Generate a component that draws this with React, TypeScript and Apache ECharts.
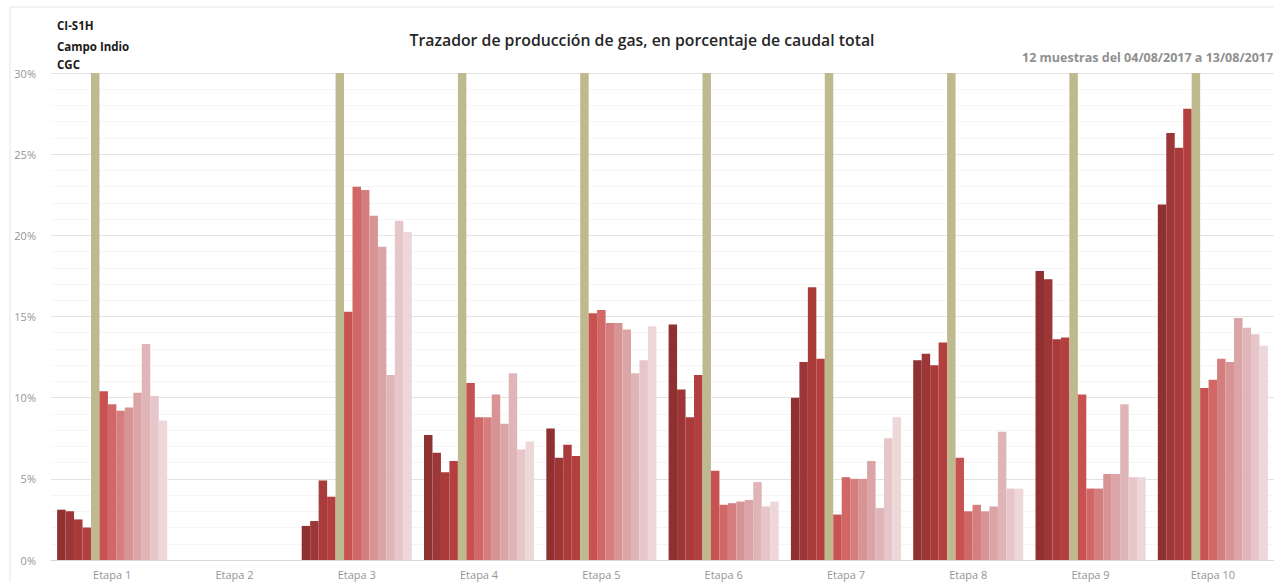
import React, { useEffect, useRef } from "react";
import * as echarts from "echarts";

// Stage names along the horizontal axis
const etapas = ["Etapa 1", "Etapa 2", "Etapa 3", "Etapa 4", "Etapa 5", "Etapa 6", "Etapa 7", "Etapa 8", "Etapa 9", "Etapa 10"];

// Gas share (% of total flow) per stage, one value per sample (12 samples)
const etapa1 = [3.1, 3.0, 2.5, 2.0, 10.4, 9.6, 9.2, 9.4, 10.3, 13.3, 10.1, 8.6];
const etapa2 = [null, null, null, null, null, null, null, null, null, null, null, null];
const etapa3 = [2.1, 2.4, 4.9, 3.9, 15.3, 23.0, 22.8, 21.2, 19.3, 11.4, 20.9, 20.2];
const etapa4 = [7.7, 6.6, 5.4, 6.1, 10.9, 8.8, 8.8, 10.2, 8.4, 11.5, 6.8, 7.3];
const etapa5 = [8.1, 6.3, 7.1, 6.4, 15.2, 15.4, 14.6, 14.6, 14.2, 11.5, 12.3, 14.4];
const etapa6 = [14.5, 10.5, 8.8, 11.4, 5.5, 3.4, 3.5, 3.6, 3.7, 4.8, 3.3, 3.6];
const etapa7 = [10.0, 12.2, 16.8, 12.4, 2.8, 5.1, 5.0, 5.0, 6.1, 3.2, 7.5, 8.8];
const etapa8 = [12.3, 12.7, 12.0, 13.4, 6.3, 3.0, 3.4, 3.0, 3.3, 7.9, 4.4, 4.4];
const etapa9 = [17.8, 17.3, 13.6, 13.7, 10.2, 4.4, 4.4, 5.3, 5.3, 9.6, 5.1, 5.1];
const etapa10 = [21.9, 26.3, 25.4, 27.8, 10.6, 11.1, 12.4, 12.2, 14.9, 14.3, 13.9, 13.2];

// Full-height divider drawn after the 4th sample of each stage
const separador = [30, null, 30, 30, 30, 30, 30, 30, 30, 30];

// Y-axis ticks (%)
const yMin = 0;
const yMax = 30;
const yStep = 5;

const sampleColors = [
  "#8F3031", "#9D3636", "#A93B3B", "#B33F3F",
  "#C85251", "#D16766", "#D57E7F", "#D89394",
  "#DBA4A7", "#DFB5B8", "#E6C6C8", "#EDD7D9",
];
const separatorColor = "#BFB98F";

const porEtapa = [etapa1, etapa2, etapa3, etapa4, etapa5, etapa6, etapa7, etapa8, etapa9, etapa10];

const FONT = "'Open Sans', Lato, sans-serif";

export default function App() {
  const ref = useRef<HTMLDivElement>(null);

  useEffect(() => {
    if (!ref.current) return;
    const chart = echarts.init(ref.current, undefined, { renderer: "svg" });

    const sampleSeries = sampleColors.map((color, i) => ({
      name: `Muestra ${i + 1}`,
      type: "bar",
      data: porEtapa.map((row) => row[i]),
      itemStyle: { color },
      barGap: "0%",
      barCategoryGap: "10%",
    }));

    const series: any[] = [
      ...sampleSeries.slice(0, 4),
      {
        name: "Separador",
        type: "bar",
        data: separador,
        itemStyle: { color: separatorColor },
        barGap: "0%",
        barCategoryGap: "10%",
      },
      ...sampleSeries.slice(4),
    ];

    chart.setOption({
      animation: false,
      backgroundColor: "#ffffff",
      textStyle: { fontFamily: FONT },
      grid: { left: 51, top: 73, width: 1225, height: 487, containLabel: false },
      graphic: [
        {
          type: "rect",
          shape: { x: 10, y: 7, width: 1280, height: 600 },
          style: { fill: "none", stroke: "#e6e6e6", lineWidth: 1 },
          silent: true,
        },
        {
          type: "text",
          x: 57,
          y: 25,
          style: { text: "CI-S1H", font: `bold 11.5px ${FONT}`, fill: "#1a1a1a", verticalAlign: "middle" },
        },
        {
          type: "text",
          x: 57,
          y: 46,
          style: { text: "Campo Indio", font: `bold 11.5px ${FONT}`, fill: "#1a1a1a", verticalAlign: "middle" },
        },
        {
          type: "text",
          x: 57,
          y: 64,
          style: { text: "CGC", font: `bold 11.5px ${FONT}`, fill: "#1a1a1a", verticalAlign: "middle" },
        },
        {
          type: "text",
          x: 642,
          y: 40,
          style: {
            text: "Trazador de producción de gas, en porcentaje de caudal total",
            font: `600 15.8px ${FONT}`,
            fill: "#262626",
            align: "center",
            verticalAlign: "middle",
          },
        },
        {
          type: "text",
          x: 1022,
          y: 57,
          style: {
            text: "12 muestras del 04/08/2017 a 13/08/2017",
            font: `bold 12.5px ${FONT}`,
            fill: "#8f8f8f",
            align: "left",
            verticalAlign: "middle",
          },
        },
      ],
      xAxis: {
        type: "category",
        data: etapas,
        axisTick: { show: false },
        axisLine: { show: true, lineStyle: { color: "#d9d9d9" } },
        axisLabel: { color: "#959595", fontSize: 11, margin: 9, fontFamily: FONT },
      },
      yAxis: {
        type: "value",
        min: yMin,
        max: yMax,
        interval: yStep,
        axisLabel: { color: "#959595", fontSize: 11, margin: 15, formatter: "{value}%", fontFamily: FONT },
        axisLine: { show: false },
        axisTick: { show: false },
        splitLine: { lineStyle: { color: "#e3e3e3", width: 1 } },
        minorTick: { show: false, splitNumber: 5 },
        minorSplitLine: { show: true, lineStyle: { color: "#f5f5f5", width: 1 } },
      },
      series,
    });

    return () => chart.dispose();
  }, []);

  return (
    <div
      ref={ref}
      style={{ position: "fixed", left: 0, top: 0, width: 1274, height: 582, overflow: "hidden" }}
    />
  );
}
